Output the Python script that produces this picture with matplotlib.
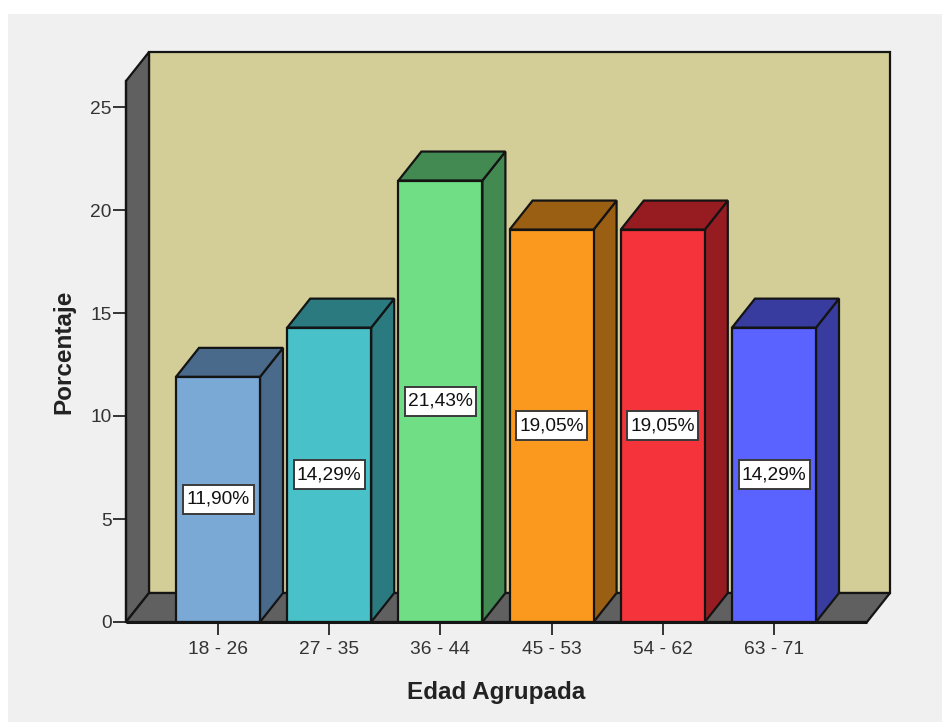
import matplotlib
matplotlib.use("Agg")
import matplotlib.pyplot as plt
from matplotlib.patches import Polygon, Rectangle

categories = ["18 - 26", "27 - 35", "36 - 44", "45 - 53", "54 - 62", "63 - 71"]
values = [11.90, 14.29, 21.43, 19.05, 19.05, 14.29]
labels = ["11,90%", "14,29%", "21,43%", "19,05%", "19,05%", "14,29%"]
front_colors = ["#7BA9D6", "#48C2C8", "#70DE85", "#FB991F", "#F4333B", "#5A63FF"]
top_colors = ["#4A6A8B", "#2A7A80", "#428A52", "#9A5F12", "#961C22", "#383C9E"]
yticks = [0, 5, 10, 15, 20, 25]

W, H = 942, 722
plt.rcParams["font.family"] = ["Liberation Sans", "DejaVu Sans"]
fig = plt.figure(figsize=(W / 100, H / 100), dpi=100, facecolor="white")
fig.add_artist(Rectangle((8 / W, 0), 1 - 8 / W, 1 - 14 / H, transform=fig.transFigure,
                         facecolor="#F0F0F0", edgecolor="none", zorder=-10))

ax = fig.add_axes([126 / W, 1 - 622 / H, (867 - 126) / W, (622 - 81) / H])
ax.patch.set_visible(False)
px_x, px_y = 111.2, 20.6
ax.set_xlim(-(218 - 126) / px_x, (867 - 218) / px_x)
ax.set_ylim(0, (622 - 81) / px_y)
xl, xr = ax.get_xlim()
yt = ax.get_ylim()[1]
dx, dy = 23 / px_x, 29 / px_y
bw = 84 / px_x
EC = "#141414"
LW = 1.6


def poly(pts, fc, z):
    ax.add_patch(Polygon(pts, closed=True, facecolor=fc, edgecolor=EC, linewidth=LW,
                         joinstyle="miter", clip_on=False, zorder=z))


poly([(xl + dx, dy), (xr + dx, dy), (xr + dx, yt + dy), (xl + dx, yt + dy)], "#D3CE97", 1)
poly([(xl, 0), (xl + dx, dy), (xl + dx, yt + dy), (xl, yt)], "#606060", 2)
poly([(xl, 0), (xr, 0), (xr + dx, dy), (xl + dx, dy)], "#606060", 2)

box_w, box_h = 71 / px_x, 29 / px_y
for i, (v, fc, tc, lab) in enumerate(zip(values, front_colors, top_colors, labels)):
    l, r = i - bw / 2, i + bw / 2
    poly([(r, 0), (r + dx, dy), (r + dx, v + dy), (r, v)], tc, 3)
    poly([(l, v), (r, v), (r + dx, v + dy), (l + dx, v + dy)], tc, 3)
    ax.bar(i, v, width=bw, color=fc, edgecolor=EC, linewidth=LW, zorder=4, clip_on=False)
    ax.add_patch(Rectangle((i - box_w / 2, v / 2 - box_h / 2), box_w, box_h, facecolor="white",
                           edgecolor="#3A3A3A", linewidth=1.4, zorder=5))
    ax.text(i, v / 2, lab, ha="center", va="center", fontsize=13.8, color="#111111", zorder=6)

ax.plot([xl, xr], [0, 0], color=EC, lw=2.2, zorder=6, clip_on=False, solid_capstyle="butt")
ax.plot([xl, xl], [0, yt], color=EC, lw=1.6, zorder=6, clip_on=False)

for s in ax.spines.values():
    s.set_visible(False)
ax.set_xticks(range(len(categories)), categories)
ax.set_yticks(yticks)
ax.tick_params(axis="both", length=9.5, width=1.4, color="#333333", labelcolor="#333333",
               labelsize=13.8, pad=1)
ax.tick_params(axis="x", pad=4.5)
ax.set_xlabel("Edad Agrupada", fontsize=17.5, fontweight="bold", color="#222222", labelpad=16)
ax.set_ylabel("Porcentaje", fontsize=17.5, fontweight="bold", color="#222222", labelpad=10.5)
fig.savefig("out.png", dpi=100, facecolor=fig.get_facecolor())
